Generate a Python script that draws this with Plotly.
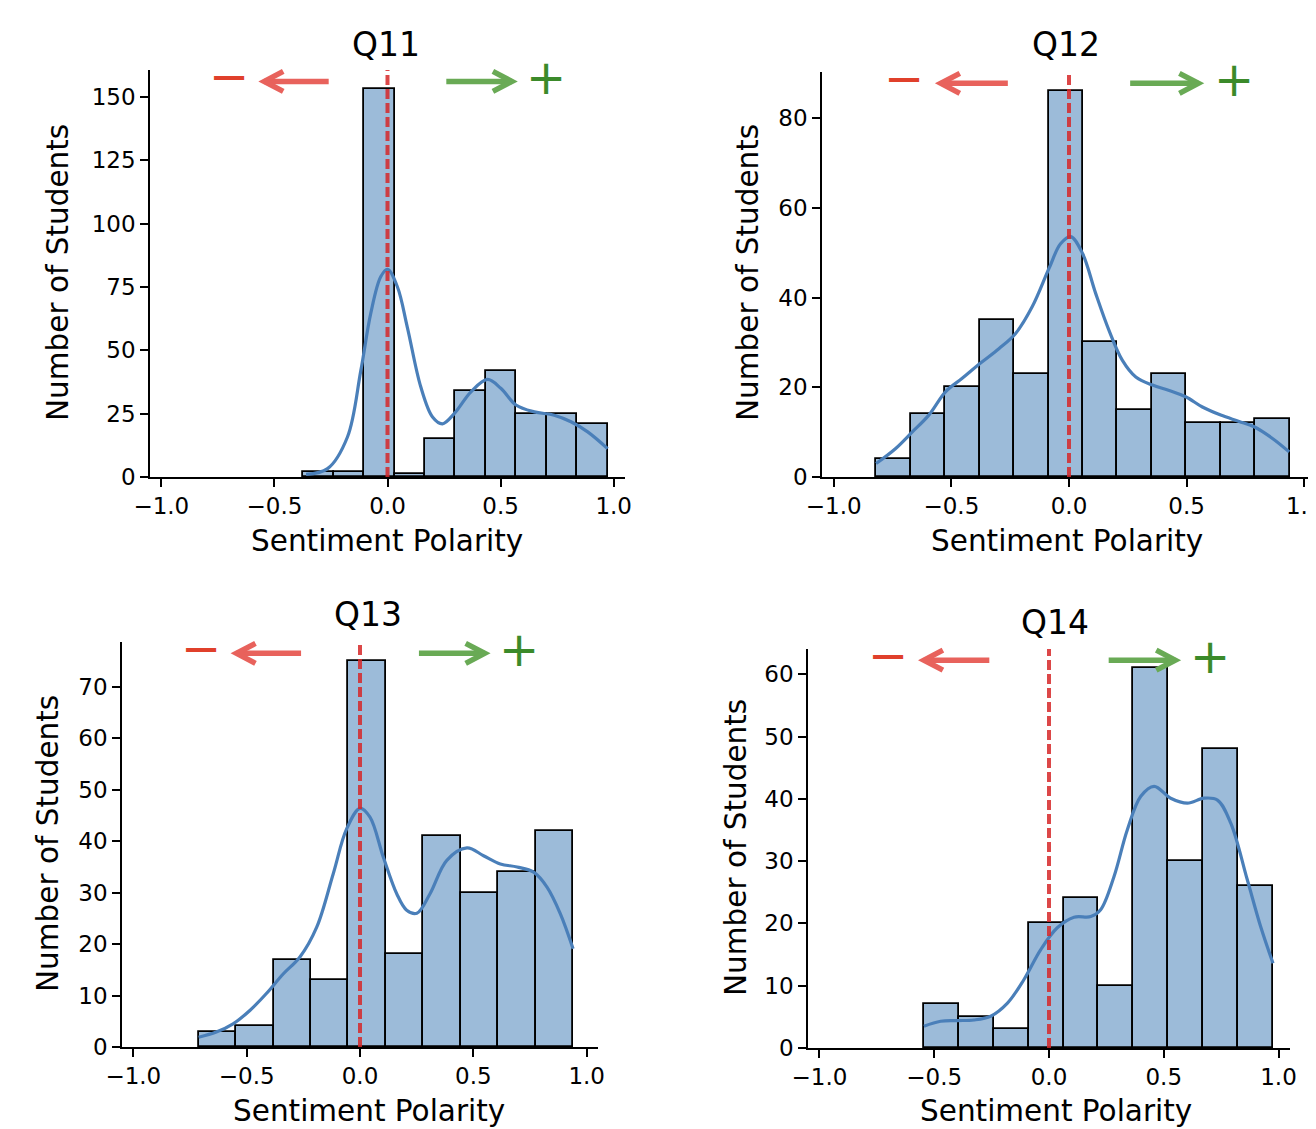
import numpy as np
import plotly.graph_objects as go

# the page body has an 8px margin, so the figure starts at (8, 8) of the window
OFF = 8
W, H = 1316 - OFF, 1129 - OFF
FONT = "DejaVu Sans"

# ---------------- data ----------------
titles = ["Q11", "Q12", "Q13", "Q14"]

# equal-width histogram bins: (first edge, last edge) and counts
q11_bin_range = (-0.372, 0.973)
q11_counts = [2, 2, 153, 1, 15, 34, 42, 25, 25, 21]
q12_bin_range = (-0.820, 0.939)
q12_counts = [4, 14, 20, 35, 23, 86, 30, 15, 23, 12, 12, 13]
q13_bin_range = (-0.712, 0.940)
q13_counts = [3, 4, 17, 13, 75, 18, 41, 30, 34, 42]
q14_bin_range = (-0.545, 0.976)
q14_counts = [7, 5, 3, 20, 24, 10, 61, 30, 48, 26]

# KDE curves (in count units)
q11_kde_x = [-0.36, -0.265, -0.177, -0.118, -0.074, -0.03, 0.0, 0.044, 0.088, 0.147, 0.199,
             0.243, 0.295, 0.369, 0.442, 0.501, 0.568, 0.649, 0.737, 0.811, 0.885, 0.973]
q11_kde_y = [1.0, 3.3, 15.8, 42, 64.6, 79, 82, 75, 59, 35.6, 23.7,
             21, 25, 33.6, 38.5, 35, 28.4, 25.7, 24.4, 21.8, 17.8, 11.2]

q12_kde_x = [-0.82, -0.738, -0.667, -0.596, -0.525, -0.454, -0.376, -0.298, -0.227, -0.156,
             -0.085, -0.036, 0.007, 0.057, 0.113, 0.17, 0.227, 0.284, 0.355, 0.426, 0.496,
             0.567, 0.645, 0.723, 0.787, 0.865, 0.936]
q12_kde_y = [3, 6.3, 10, 13.8, 19, 22, 25.4, 28.6, 32, 38,
             46.5, 52, 53.6, 49.9, 41, 32.7, 26, 22.3, 20.5, 19.3, 17.9,
             15.6, 13.8, 12.4, 11.2, 8.6, 5.6]

q13_kde_x = [-0.712, -0.634, -0.56, -0.486, -0.413, -0.339, -0.265, -0.191, -0.118, -0.059,
             0.0, 0.044, 0.103, 0.162, 0.206, 0.251, 0.309, 0.383, 0.472, 0.545, 0.619,
             0.693, 0.766, 0.825, 0.884, 0.94]
q13_kde_y = [1.9, 2.9, 4.5, 7.1, 10.4, 14.2, 17.5, 23.3, 33.7, 42.4,
             46.4, 44.7, 36.9, 29.8, 26.6, 26, 29.8, 36.3, 38.7, 37.2, 35.6,
             35, 34, 31.1, 25.9, 19.1]

q14_kde_x = [-0.545, -0.472, -0.399, -0.327, -0.254, -0.181, -0.109, -0.036, 0.036, 0.109,
             0.182, 0.225, 0.283, 0.341, 0.4, 0.458, 0.53, 0.603, 0.675, 0.734, 0.792,
             0.864, 0.922, 0.976]
q14_kde_y = [3.5, 4.3, 4.4, 4.5, 5.1, 7.2, 11, 15.8, 19.3, 21,
             21.1, 22.2, 27.5, 35, 40.4, 42, 40.1, 39.3, 40.1, 39.8, 36.1,
             27, 19.5, 13.6]

q11_yticks = [0, 25, 50, 75, 100, 125, 150]
q12_yticks = [0, 20, 40, 60, 80]
q13_yticks = [0, 10, 20, 30, 40, 50, 60, 70]
q14_yticks = [0, 10, 20, 30, 40, 50, 60]

x_ticks = [-1.0, -0.5, 0.0, 0.5, 1.0]
x_tick_labels = ["\u22121.0", "\u22120.5", "0.0", "0.5", "1.0"]

x_label = "Sentiment Polarity"
y_label = "Number of Students"
X_RANGE = (-1.05, 1.05)

panels = [
    dict(title=titles[0], bins=q11_bin_range, counts=q11_counts, kx=q11_kde_x, ky=q11_kde_y, yt=q11_yticks),
    dict(title=titles[1], bins=q12_bin_range, counts=q12_counts, kx=q12_kde_x, ky=q12_kde_y, yt=q12_yticks),
    dict(title=titles[2], bins=q13_bin_range, counts=q13_counts, kx=q13_kde_x, ky=q13_kde_y, yt=q13_yticks),
    dict(title=titles[3], bins=q14_bin_range, counts=q14_counts, kx=q14_kde_x, ky=q14_kde_y, yt=q14_yticks),
]

# ---------------- layout geometry (window pixels) ----------------
# (left, right, top, bottom) of each axes box
boxes = [(150, 625, 70, 477), (822, 1316, 72, 477), (122, 598, 642, 1047), (808, 1290, 649, 1048)]
title_pos = [(386, 45), (1066, 45), (368, 614), (1055, 622)]
ylab_pos = [(58, 273), (748, 273), (48, 844), (736, 848)]
xlab_pos = [(387, 541), (1067, 541), (369, 1111), (1056, 1111)]

BAR_FILL = "#9cbbd9"
KDE_COLOR = "#4a7fb9"
VLINE_COLOR = "rgba(214,39,40,0.85)"
RED_ARROW = "#e8625c"
GREEN_ARROW = "#69aa55"
MINUS_COLOR = "#e0402b"
PLUS_COLOR = "#3b8a2a"

fig = go.Figure()
layout_axes = {}
shapes = []
annotations = []


def px2fx(px):
    return (px - OFF) / W


def py2fy(py):
    return 1 - (py - OFF) / H


for i, p in enumerate(panels):
    n = i + 1
    xa = "x" if n == 1 else f"x{n}"
    ya = "y" if n == 1 else f"y{n}"
    xkey = "xaxis" if n == 1 else f"xaxis{n}"
    ykey = "yaxis" if n == 1 else f"yaxis{n}"
    l, r, t, b = boxes[i]

    counts = np.array(p["counts"], dtype=float)
    edges = np.linspace(p["bins"][0], p["bins"][1], len(counts) + 1)
    centers = (edges[:-1] + edges[1:]) / 2
    width = edges[1] - edges[0]

    fig.add_trace(go.Bar(
        x=centers, y=counts, width=width, xaxis=xa, yaxis=ya,
        marker=dict(color=BAR_FILL, line=dict(color="black", width=1.8)),
        showlegend=False, hoverinfo="skip",
    ))
    fig.add_trace(go.Scatter(
        x=p["kx"], y=p["ky"], xaxis=xa, yaxis=ya, mode="lines",
        line=dict(color=KDE_COLOR, width=3.2, shape="spline", smoothing=1.0),
        showlegend=False, hoverinfo="skip",
    ))

    ymax = max(p["counts"]) * 1.05
    axis_common = dict(
        showline=True, linecolor="black", linewidth=1.6,
        ticks="outside", ticklen=8, tickwidth=1.6, tickcolor="black",
        showgrid=False, zeroline=False, automargin=False,
        ticklabeloverflow="allow",
        tickfont=dict(family=FONT, size=23, color="black"),
    )
    layout_axes[xkey] = dict(
        domain=[px2fx(l), min(1.0, px2fx(r))], anchor=ya, range=list(X_RANGE),
        tickvals=x_ticks, ticktext=x_tick_labels, **axis_common,
    )
    layout_axes[ykey] = dict(
        domain=[py2fy(b), py2fy(t)], anchor=xa, range=[0, ymax],
        tickvals=p["yt"], **axis_common,
    )

    # vertical dashed line at neutral polarity
    shapes.append(dict(
        type="line", xref=xa, yref=f"{ya} domain", x0=0, x1=0, y0=0, y1=1,
        line=dict(color=VLINE_COLOR, width=4, dash="10px,4px"), layer="above",
    ))

    # direction arrows
    ppu = (r - l) / (X_RANGE[1] - X_RANGE[0])
    hx = 19 / ppu
    hy = 10 / (b - t)
    ay = 0.972
    for tail, tip, col in [(-0.26, -0.545, RED_ARROW), (0.26, 0.55, GREEN_ARROW)]:
        sgn = 1 if tip > tail else -1
        shapes.append(dict(type="line", xref=xa, yref=f"{ya} domain",
                           x0=tail, x1=tip, y0=ay, y1=ay,
                           line=dict(color=col, width=5.5), layer="above"))
        path = (f"M {tip - sgn * hx},{ay + hy} L {tip},{ay} L {tip - sgn * hx},{ay - hy}")
        shapes.append(dict(type="path", xref=xa, yref=f"{ya} domain", path=path,
                           fillcolor="rgba(0,0,0,0)", line=dict(color=col, width=5.5),
                           layer="above"))
    annotations.append(dict(text="\u2212", xref=xa, yref=f"{ya} domain", x=-0.70, y=0.985,
                            showarrow=False, font=dict(family=FONT, size=48, color=MINUS_COLOR),
                            xanchor="center", yanchor="middle"))
    annotations.append(dict(text="+", xref=xa, yref=f"{ya} domain", x=0.70, y=0.982,
                            showarrow=False, font=dict(family=FONT, size=48, color=PLUS_COLOR),
                            xanchor="center", yanchor="middle"))

    # titles and axis labels
    tx, ty = title_pos[i]
    annotations.append(dict(text=p["title"], xref="paper", yref="paper", x=px2fx(tx), y=py2fy(ty),
                            showarrow=False, font=dict(family=FONT, size=33, color="black"),
                            xanchor="center", yanchor="middle"))
    yx, yy = ylab_pos[i]
    annotations.append(dict(text=y_label, xref="paper", yref="paper", x=px2fx(yx), y=py2fy(yy),
                            showarrow=False, textangle=-90,
                            font=dict(family=FONT, size=29.5, color="black"),
                            xanchor="center", yanchor="middle"))
    xx, xy = xlab_pos[i]
    annotations.append(dict(text=x_label, xref="paper", yref="paper", x=px2fx(xx), y=py2fy(xy),
                            showarrow=False, font=dict(family=FONT, size=29.5, color="black"),
                            xanchor="center", yanchor="middle"))

fig.update_layout(
    template="none",
    width=W, height=H,
    margin=dict(l=0, r=0, t=0, b=0, autoexpand=False),
    paper_bgcolor="white", plot_bgcolor="white",
    barmode="overlay", bargap=0,
    shapes=shapes, annotations=annotations,
    font=dict(family=FONT, color="black"),
    **layout_axes,
)

fig.write_html("out.html")
